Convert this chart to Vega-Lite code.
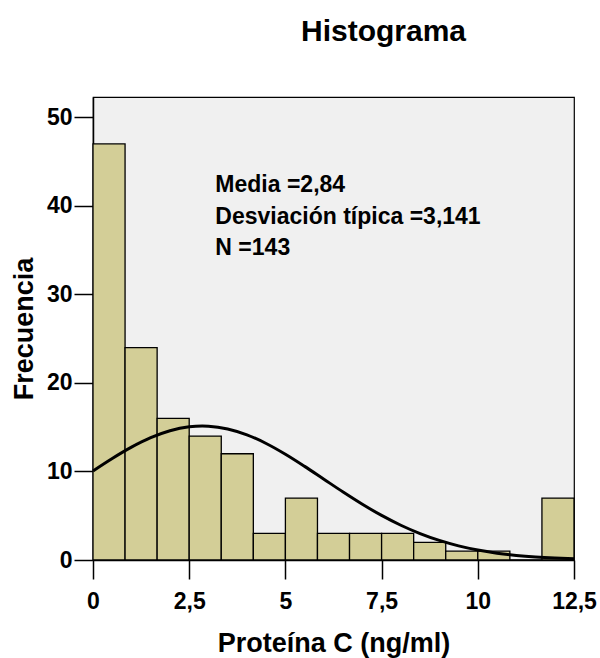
{
  "$schema": "https://vega.github.io/schema/vega-lite/v6.json",
  "width": 481,
  "height": 463,
  "autosize": "none",
  "padding": {"left": 93, "top": 97, "right": 26, "bottom": 98},
  "background": "white",
  "config": {
    "font": "Liberation Sans",
    "view": {"fill": "#f0f0f0", "stroke": "#000000", "strokeWidth": 1.2},
    "axis": {
      "domainColor": "#000000",
      "domainWidth": 1.5,
      "tickColor": "#000000",
      "tickWidth": 1.5,
      "tickSize": 19,
      "labelFont": "Liberation Sans",
      "labelFontSize": 23,
      "labelFontWeight": "bold",
      "labelColor": "#000000",
      "titleFont": "Liberation Sans",
      "titleFontSize": 27,
      "titleFontWeight": "bold",
      "titleColor": "#000000",
      "grid": false
    }
  },
  "title": {
    "text": "Histograma",
    "font": "Liberation Sans",
    "fontSize": 30,
    "fontWeight": "bold",
    "color": "#000000",
    "anchor": "middle",
    "dx": 50,
    "offset": 50
  },
  "datasets": {
    "bins": [
      {"start": 0.0, "end": 0.8333, "count": 47},
      {"start": 0.8333, "end": 1.6667, "count": 24},
      {"start": 1.6667, "end": 2.5, "count": 16},
      {"start": 2.5, "end": 3.3333, "count": 14},
      {"start": 3.3333, "end": 4.1667, "count": 12},
      {"start": 4.1667, "end": 5.0, "count": 3},
      {"start": 5.0, "end": 5.8333, "count": 7},
      {"start": 5.8333, "end": 6.6667, "count": 3},
      {"start": 6.6667, "end": 7.5, "count": 3},
      {"start": 7.5, "end": 8.3333, "count": 3},
      {"start": 8.3333, "end": 9.1667, "count": 2},
      {"start": 9.1667, "end": 10.0, "count": 1},
      {"start": 10.0, "end": 10.8333, "count": 1},
      {"start": 10.8333, "end": 11.6667, "count": 0},
      {"start": 11.6667, "end": 12.5, "count": 7}
    ],
    "curve": [
      {"x": 0.0, "y": 10.057},
      {"x": 0.5, "y": 11.468},
      {"x": 1.0, "y": 12.749},
      {"x": 1.5, "y": 13.819},
      {"x": 2.0, "y": 14.604},
      {"x": 2.5, "y": 15.047},
      {"x": 2.84, "y": 15.136},
      {"x": 3.0, "y": 15.116},
      {"x": 3.5, "y": 14.805},
      {"x": 4.0, "y": 14.138},
      {"x": 4.5, "y": 13.163},
      {"x": 5.0, "y": 11.948},
      {"x": 5.5, "y": 10.575},
      {"x": 6.0, "y": 9.125},
      {"x": 6.5, "y": 7.677},
      {"x": 7.0, "y": 6.297},
      {"x": 7.5, "y": 5.035},
      {"x": 8.0, "y": 3.926},
      {"x": 8.5, "y": 2.985},
      {"x": 9.0, "y": 2.212},
      {"x": 9.5, "y": 1.599},
      {"x": 10.0, "y": 1.126},
      {"x": 10.5, "y": 0.774},
      {"x": 11.0, "y": 0.518},
      {"x": 11.5, "y": 0.338},
      {"x": 12.0, "y": 0.216},
      {"x": 12.5, "y": 0.134}
    ],
    "stats": [
      {"label": "Media =2,84", "x": 3.18, "y": 41.57},
      {"label": "Desviación típica =3,141", "x": 3.18, "y": 38.01},
      {"label": "N =143", "x": 3.18, "y": 34.46}
    ]
  },
  "layer": [
    {
      "data": {"name": "bins"},
      "mark": {"type": "rect", "fill": "#d3ce97", "stroke": "#000000", "strokeWidth": 1.3},
      "encoding": {
        "x": {
          "field": "start",
          "type": "quantitative",
          "title": "Proteína C (ng/ml)",
          "scale": {"domain": [0, 12.5], "nice": false, "zero": false},
          "axis": {
            "values": [0, 2.5, 5, 7.5, 10, 12.5],
            "labelExpr": "replace(format(datum.value, '~g'), '.', ',')",
            "labelPadding": 11,
            "titlePadding": 17,
            "labelFlush": false,
            "labelOverlap": false
          }
        },
        "x2": {"field": "end"},
        "y": {
          "field": "count",
          "type": "quantitative",
          "title": "Frecuencia",
          "scale": {"domain": [0, 52.3], "nice": false},
          "axis": {
            "values": [0, 10, 20, 30, 40, 50],
            "labelPadding": 2,
            "titlePadding": 8,
            "labelFlush": false,
            "labelOverlap": false
          }
        },
        "y2": {"datum": 0}
      }
    },
    {
      "data": {"name": "curve"},
      "mark": {"type": "line", "color": "#000000", "strokeWidth": 3, "interpolate": "monotone"},
      "encoding": {
        "x": {"field": "x", "type": "quantitative", "title": "Proteína C (ng/ml)", "scale": {"domain": [0, 12.5], "nice": false, "zero": false}},
        "y": {"field": "y", "type": "quantitative", "title": "Frecuencia", "scale": {"domain": [0, 52.3], "nice": false}}
      }
    },
    {
      "data": {"name": "stats"},
      "mark": {"type": "text", "align": "left", "baseline": "alphabetic", "font": "Liberation Sans", "fontSize": 23, "fontWeight": "bold", "color": "#000000"},
      "encoding": {
        "x": {"field": "x", "type": "quantitative", "title": "Proteína C (ng/ml)", "scale": {"domain": [0, 12.5], "nice": false, "zero": false}},
        "y": {"field": "y", "type": "quantitative", "title": "Frecuencia", "scale": {"domain": [0, 52.3], "nice": false}},
        "text": {"field": "label"}
      }
    }
  ]
}
